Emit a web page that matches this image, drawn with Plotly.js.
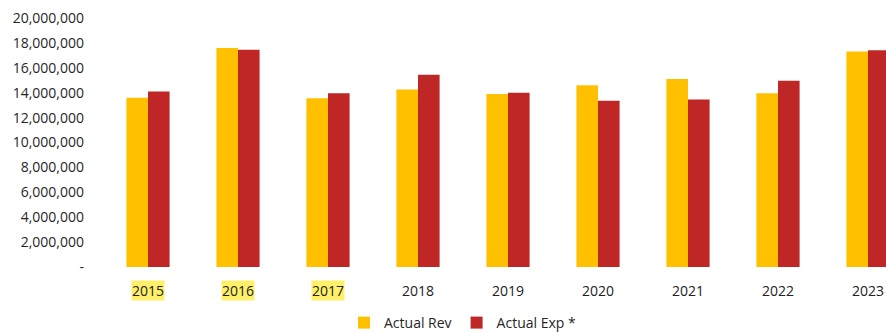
<!DOCTYPE html>
<html>
<head>
<meta charset="utf-8">
<script src="https://cdn.plot.ly/plotly-3.0.1.min.js"></script>
<style>html,body{margin:0;padding:0;background:#fff;}#chart{width:886px;height:333px;}</style>
</head>
<body>
<div id="chart"></div>
<script>
var years = ["2015","2016","2017","2018","2019","2020","2021","2022","2023"];
var highlighted = ["2015","2016","2017"];
var actualRev = [13600000, 17600000, 13550000, 14250000, 13900000, 14600000, 15100000, 13950000, 17300000];
var actualExp = [14100000, 17450000, 13950000, 15450000, 14000000, 13350000, 13450000, 14950000, 17400000];
var tickVals = [0,2000000,4000000,6000000,8000000,10000000,12000000,14000000,16000000,18000000,20000000];
var tickText = ["-","2,000,000","4,000,000","6,000,000","8,000,000","10,000,000","12,000,000","14,000,000","16,000,000","18,000,000","20,000,000"];

var font = "'Open Sans', 'DejaVu Sans', sans-serif";

var traces = [
  {type:"bar", name:"Actual Rev", x:years, y:actualRev, marker:{color:"#FFC000"}, hoverinfo:"none"},
  {type:"bar", name:"Actual Exp *", x:years, y:actualExp, marker:{color:"#BF2727"}, hoverinfo:"none"}
];

var annotations = years.map(function(yr, i){
  var hl = highlighted.indexOf(yr) >= 0;
  return {
    x: i, xref:"x", y:0, yref:"paper", yanchor:"top", yshift:-13,
    text: yr, showarrow:false,
    font:{family:font, size:14, color:"#222"},
    bgcolor: hl ? "#FFF06A" : "rgba(0,0,0,0)", borderpad:0
  };
});

var layout = {
  width:886, height:333,
  margin:{l:103, r:0, t:18, b:66},
  paper_bgcolor:"#fff", plot_bgcolor:"#fff",
  barmode:"group", bargap:0.52, bargroupgap:0,
  font:{family:font, size:14, color:"#262626"},
  xaxis:{type:"category", range:[-0.5, 8.2], showticklabels:false, showgrid:false, zeroline:false, showline:false, ticks:""},
  yaxis:{range:[0,20000000], tickvals:tickVals, ticktext:tickText, showgrid:false, zeroline:false, showline:false, ticks:"", ticklabelstandoff:18, tickfont:{family:font, size:14, color:"#262626"}},
  legend:{orientation:"h", xref:"container", yref:"container", x:0.522, xanchor:"center", y:0.03, yanchor:"middle", font:{family:font, size:14, color:"#262626"}, itemwidth:30, traceorder:"normal"},
  annotations: annotations,
  showlegend:true
};

Plotly.newPlot("chart", traces, layout, {staticPlot:true, displayModeBar:false});
</script>
</body>
</html>
